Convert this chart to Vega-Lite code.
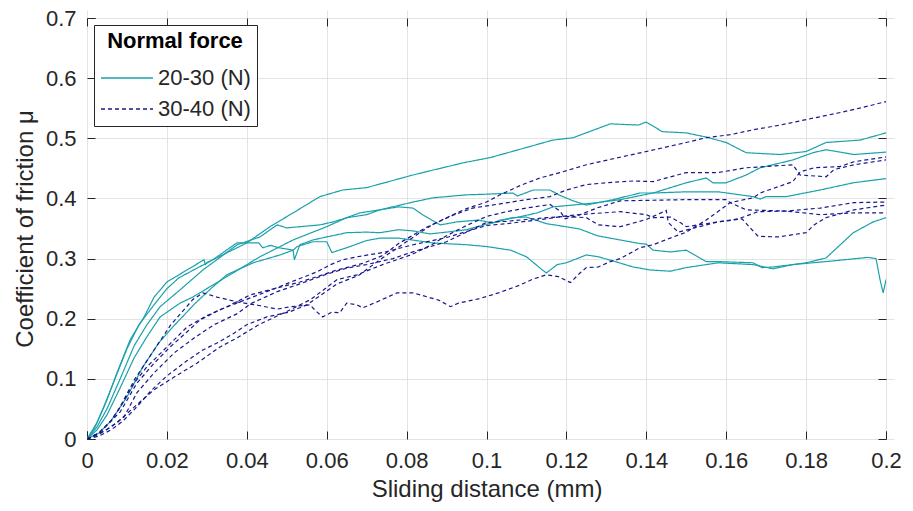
{
"$schema":"https://vega.github.io/schema/vega-lite/v6.json",
"width":799,"height":421,
"autosize":{"type":"none"},
"padding":{"left":87,"top":18,"right":27,"bottom":72},
"background":"white",
"config":{"font":"Liberation Sans","view":{"stroke":"#262626","strokeWidth":1},
"axis":{"domain":false,"tickColor":"#262626","tickSize":8,"tickWidth":1,"offset":-8,"labelColor":"#262626","titleColor":"#262626","labelFontSize":22,"titleFontSize":24,"titleFontWeight":"normal","gridColor":"#e3e3e3","gridWidth":1,"labelFlush":false,"labelOverlap":false,"zindex":0}},
"data":{"values":[
{"s":"T1","g":"20-30 (N)","x":0,"y":0},{"s":"T1","g":"20-30 (N)","x":0.0025,"y":0.027},{"s":"T1","g":"20-30 (N)","x":0.005,"y":0.065},{"s":"T1","g":"20-30 (N)","x":0.0075,"y":0.11},{"s":"T1","g":"20-30 (N)","x":0.0108,"y":0.165},{"s":"T1","g":"20-30 (N)","x":0.0143,"y":0.203},{"s":"T1","g":"20-30 (N)","x":0.0168,"y":0.236},{"s":"T1","g":"20-30 (N)","x":0.02,"y":0.261},{"s":"T1","g":"20-30 (N)","x":0.025,"y":0.281},{"s":"T1","g":"20-30 (N)","x":0.0293,"y":0.298},{"s":"T1","g":"20-30 (N)","x":0.0296,"y":0.29},{"s":"T1","g":"20-30 (N)","x":0.0302,"y":0.294},{"s":"T1","g":"20-30 (N)","x":0.033,"y":0.303},{"s":"T1","g":"20-30 (N)","x":0.04,"y":0.326},{"s":"T1","g":"20-30 (N)","x":0.0458,"y":0.353},{"s":"T1","g":"20-30 (N)","x":0.0516,"y":0.376},{"s":"T1","g":"20-30 (N)","x":0.0583,"y":0.403},{"s":"T1","g":"20-30 (N)","x":0.064,"y":0.414},{"s":"T1","g":"20-30 (N)","x":0.07,"y":0.418},{"s":"T1","g":"20-30 (N)","x":0.0783,"y":0.433},{"s":"T1","g":"20-30 (N)","x":0.081,"y":0.438},{"s":"T1","g":"20-30 (N)","x":0.094,"y":0.459},{"s":"T1","g":"20-30 (N)","x":0.101,"y":0.468},{"s":"T1","g":"20-30 (N)","x":0.108,"y":0.481},{"s":"T1","g":"20-30 (N)","x":0.1166,"y":0.497},{"s":"T1","g":"20-30 (N)","x":0.1217,"y":0.501},{"s":"T1","g":"20-30 (N)","x":0.131,"y":0.524},{"s":"T1","g":"20-30 (N)","x":0.138,"y":0.522},{"s":"T1","g":"20-30 (N)","x":0.14,"y":0.527},{"s":"T1","g":"20-30 (N)","x":0.144,"y":0.511},{"s":"T1","g":"20-30 (N)","x":0.15,"y":0.509},{"s":"T1","g":"20-30 (N)","x":0.155,"y":0.502},{"s":"T1","g":"20-30 (N)","x":0.16,"y":0.493},{"s":"T1","g":"20-30 (N)","x":0.165,"y":0.476},{"s":"T1","g":"20-30 (N)","x":0.1735,"y":0.473},{"s":"T1","g":"20-30 (N)","x":0.18,"y":0.478},{"s":"T1","g":"20-30 (N)","x":0.185,"y":0.493},{"s":"T1","g":"20-30 (N)","x":0.1935,"y":0.497},{"s":"T1","g":"20-30 (N)","x":0.2,"y":0.509},
{"s":"T2","g":"20-30 (N)","x":0,"y":0},{"s":"T2","g":"20-30 (N)","x":0.0025,"y":0.02},{"s":"T2","g":"20-30 (N)","x":0.005,"y":0.05},{"s":"T2","g":"20-30 (N)","x":0.0083,"y":0.1},{"s":"T2","g":"20-30 (N)","x":0.0118,"y":0.155},{"s":"T2","g":"20-30 (N)","x":0.015,"y":0.19},{"s":"T2","g":"20-30 (N)","x":0.0183,"y":0.22},{"s":"T2","g":"20-30 (N)","x":0.0233,"y":0.248},{"s":"T2","g":"20-30 (N)","x":0.029,"y":0.281},{"s":"T2","g":"20-30 (N)","x":0.0376,"y":0.323},{"s":"T2","g":"20-30 (N)","x":0.0433,"y":0.336},{"s":"T2","g":"20-30 (N)","x":0.0476,"y":0.356},{"s":"T2","g":"20-30 (N)","x":0.05,"y":0.351},{"s":"T2","g":"20-30 (N)","x":0.0533,"y":0.353},{"s":"T2","g":"20-30 (N)","x":0.0583,"y":0.356},{"s":"T2","g":"20-30 (N)","x":0.0616,"y":0.361},{"s":"T2","g":"20-30 (N)","x":0.0651,"y":0.368},{"s":"T2","g":"20-30 (N)","x":0.07,"y":0.373},{"s":"T2","g":"20-30 (N)","x":0.0733,"y":0.381},{"s":"T2","g":"20-30 (N)","x":0.0816,"y":0.394},{"s":"T2","g":"20-30 (N)","x":0.0866,"y":0.401},{"s":"T2","g":"20-30 (N)","x":0.095,"y":0.406},{"s":"T2","g":"20-30 (N)","x":0.1,"y":0.407},{"s":"T2","g":"20-30 (N)","x":0.1066,"y":0.409},{"s":"T2","g":"20-30 (N)","x":0.1077,"y":0.404},{"s":"T2","g":"20-30 (N)","x":0.1117,"y":0.414},{"s":"T2","g":"20-30 (N)","x":0.1159,"y":0.414},{"s":"T2","g":"20-30 (N)","x":0.1184,"y":0.405},{"s":"T2","g":"20-30 (N)","x":0.1217,"y":0.396},{"s":"T2","g":"20-30 (N)","x":0.125,"y":0.389},{"s":"T2","g":"20-30 (N)","x":0.1317,"y":0.398},{"s":"T2","g":"20-30 (N)","x":0.1384,"y":0.409},{"s":"T2","g":"20-30 (N)","x":0.1417,"y":0.409},{"s":"T2","g":"20-30 (N)","x":0.15,"y":0.426},{"s":"T2","g":"20-30 (N)","x":0.155,"y":0.434},{"s":"T2","g":"20-30 (N)","x":0.1567,"y":0.426},{"s":"T2","g":"20-30 (N)","x":0.16,"y":0.426},{"s":"T2","g":"20-30 (N)","x":0.165,"y":0.439},{"s":"T2","g":"20-30 (N)","x":0.1685,"y":0.451},{"s":"T2","g":"20-30 (N)","x":0.1767,"y":0.464},{"s":"T2","g":"20-30 (N)","x":0.1817,"y":0.476},{"s":"T2","g":"20-30 (N)","x":0.185,"y":0.481},{"s":"T2","g":"20-30 (N)","x":0.192,"y":0.473},{"s":"T2","g":"20-30 (N)","x":0.2,"y":0.477},
{"s":"T3","g":"20-30 (N)","x":0,"y":0},{"s":"T3","g":"20-30 (N)","x":0.0025,"y":0.015},{"s":"T3","g":"20-30 (N)","x":0.005,"y":0.04},{"s":"T3","g":"20-30 (N)","x":0.0083,"y":0.085},{"s":"T3","g":"20-30 (N)","x":0.0118,"y":0.135},{"s":"T3","g":"20-30 (N)","x":0.015,"y":0.17},{"s":"T3","g":"20-30 (N)","x":0.0183,"y":0.203},{"s":"T3","g":"20-30 (N)","x":0.0233,"y":0.226},{"s":"T3","g":"20-30 (N)","x":0.0265,"y":0.236},{"s":"T3","g":"20-30 (N)","x":0.035,"y":0.27},{"s":"T3","g":"20-30 (N)","x":0.0433,"y":0.303},{"s":"T3","g":"20-30 (N)","x":0.0516,"y":0.331},{"s":"T3","g":"20-30 (N)","x":0.06,"y":0.353},{"s":"T3","g":"20-30 (N)","x":0.065,"y":0.368},{"s":"T3","g":"20-30 (N)","x":0.0683,"y":0.376},{"s":"T3","g":"20-30 (N)","x":0.0733,"y":0.381},{"s":"T3","g":"20-30 (N)","x":0.078,"y":0.386},{"s":"T3","g":"20-30 (N)","x":0.0816,"y":0.384},{"s":"T3","g":"20-30 (N)","x":0.084,"y":0.373},{"s":"T3","g":"20-30 (N)","x":0.0884,"y":0.356},{"s":"T3","g":"20-30 (N)","x":0.0926,"y":0.361},{"s":"T3","g":"20-30 (N)","x":0.098,"y":0.364},{"s":"T3","g":"20-30 (N)","x":0.1016,"y":0.359},{"s":"T3","g":"20-30 (N)","x":0.1034,"y":0.364},{"s":"T3","g":"20-30 (N)","x":0.108,"y":0.369},{"s":"T3","g":"20-30 (N)","x":0.1127,"y":0.376},{"s":"T3","g":"20-30 (N)","x":0.1167,"y":0.386},{"s":"T3","g":"20-30 (N)","x":0.1217,"y":0.389},{"s":"T3","g":"20-30 (N)","x":0.1277,"y":0.393},{"s":"T3","g":"20-30 (N)","x":0.1335,"y":0.398},{"s":"T3","g":"20-30 (N)","x":0.1417,"y":0.409},{"s":"T3","g":"20-30 (N)","x":0.15,"y":0.411},{"s":"T3","g":"20-30 (N)","x":0.158,"y":0.411},{"s":"T3","g":"20-30 (N)","x":0.1667,"y":0.403},{"s":"T3","g":"20-30 (N)","x":0.1685,"y":0.399},{"s":"T3","g":"20-30 (N)","x":0.17,"y":0.403},{"s":"T3","g":"20-30 (N)","x":0.175,"y":0.403},{"s":"T3","g":"20-30 (N)","x":0.1835,"y":0.414},{"s":"T3","g":"20-30 (N)","x":0.1918,"y":0.426},{"s":"T3","g":"20-30 (N)","x":0.2,"y":0.433},
{"s":"T4","g":"20-30 (N)","x":0,"y":0},{"s":"T4","g":"20-30 (N)","x":0.003,"y":0.01},{"s":"T4","g":"20-30 (N)","x":0.006,"y":0.03},{"s":"T4","g":"20-30 (N)","x":0.01,"y":0.07},{"s":"T4","g":"20-30 (N)","x":0.014,"y":0.12},{"s":"T4","g":"20-30 (N)","x":0.018,"y":0.16},{"s":"T4","g":"20-30 (N)","x":0.022,"y":0.19},{"s":"T4","g":"20-30 (N)","x":0.027,"y":0.225},{"s":"T4","g":"20-30 (N)","x":0.031,"y":0.25},{"s":"T4","g":"20-30 (N)","x":0.035,"y":0.273},{"s":"T4","g":"20-30 (N)","x":0.0416,"y":0.293},{"s":"T4","g":"20-30 (N)","x":0.0483,"y":0.306},{"s":"T4","g":"20-30 (N)","x":0.0516,"y":0.314},{"s":"T4","g":"20-30 (N)","x":0.0519,"y":0.298},{"s":"T4","g":"20-30 (N)","x":0.0533,"y":0.323},{"s":"T4","g":"20-30 (N)","x":0.0566,"y":0.331},{"s":"T4","g":"20-30 (N)","x":0.06,"y":0.336},{"s":"T4","g":"20-30 (N)","x":0.065,"y":0.343},{"s":"T4","g":"20-30 (N)","x":0.07,"y":0.344},{"s":"T4","g":"20-30 (N)","x":0.0733,"y":0.343},{"s":"T4","g":"20-30 (N)","x":0.078,"y":0.348},{"s":"T4","g":"20-30 (N)","x":0.0816,"y":0.346},{"s":"T4","g":"20-30 (N)","x":0.0859,"y":0.341},{"s":"T4","g":"20-30 (N)","x":0.09,"y":0.344},{"s":"T4","g":"20-30 (N)","x":0.095,"y":0.348},{"s":"T4","g":"20-30 (N)","x":0.1,"y":0.357},{"s":"T4","g":"20-30 (N)","x":0.1066,"y":0.368},{"s":"T4","g":"20-30 (N)","x":0.11,"y":0.369},{"s":"T4","g":"20-30 (N)","x":0.115,"y":0.358},{"s":"T4","g":"20-30 (N)","x":0.118,"y":0.355},{"s":"T4","g":"20-30 (N)","x":0.1234,"y":0.349},{"s":"T4","g":"20-30 (N)","x":0.1277,"y":0.338},{"s":"T4","g":"20-30 (N)","x":0.1317,"y":0.333},{"s":"T4","g":"20-30 (N)","x":0.1384,"y":0.325},{"s":"T4","g":"20-30 (N)","x":0.14,"y":0.324},{"s":"T4","g":"20-30 (N)","x":0.1417,"y":0.314},{"s":"T4","g":"20-30 (N)","x":0.146,"y":0.311},{"s":"T4","g":"20-30 (N)","x":0.15,"y":0.314},{"s":"T4","g":"20-30 (N)","x":0.155,"y":0.295},{"s":"T4","g":"20-30 (N)","x":0.158,"y":0.295},{"s":"T4","g":"20-30 (N)","x":0.1667,"y":0.293},{"s":"T4","g":"20-30 (N)","x":0.169,"y":0.285},{"s":"T4","g":"20-30 (N)","x":0.1717,"y":0.286},{"s":"T4","g":"20-30 (N)","x":0.1767,"y":0.29},{"s":"T4","g":"20-30 (N)","x":0.18,"y":0.293},{"s":"T4","g":"20-30 (N)","x":0.185,"y":0.301},{"s":"T4","g":"20-30 (N)","x":0.1918,"y":0.343},{"s":"T4","g":"20-30 (N)","x":0.1968,"y":0.361},{"s":"T4","g":"20-30 (N)","x":0.2,"y":0.368},
{"s":"T5","g":"20-30 (N)","x":0,"y":0},{"s":"T5","g":"20-30 (N)","x":0.002,"y":0.02},{"s":"T5","g":"20-30 (N)","x":0.004,"y":0.05},{"s":"T5","g":"20-30 (N)","x":0.007,"y":0.1},{"s":"T5","g":"20-30 (N)","x":0.01,"y":0.15},{"s":"T5","g":"20-30 (N)","x":0.013,"y":0.19},{"s":"T5","g":"20-30 (N)","x":0.017,"y":0.225},{"s":"T5","g":"20-30 (N)","x":0.02,"y":0.25},{"s":"T5","g":"20-30 (N)","x":0.023,"y":0.268},{"s":"T5","g":"20-30 (N)","x":0.0315,"y":0.298},{"s":"T5","g":"20-30 (N)","x":0.0375,"y":0.326},{"s":"T5","g":"20-30 (N)","x":0.043,"y":0.326},{"s":"T5","g":"20-30 (N)","x":0.044,"y":0.318},{"s":"T5","g":"20-30 (N)","x":0.046,"y":0.322},{"s":"T5","g":"20-30 (N)","x":0.048,"y":0.318},{"s":"T5","g":"20-30 (N)","x":0.0516,"y":0.314},{"s":"T5","g":"20-30 (N)","x":0.0526,"y":0.32},{"s":"T5","g":"20-30 (N)","x":0.0566,"y":0.328},{"s":"T5","g":"20-30 (N)","x":0.06,"y":0.328},{"s":"T5","g":"20-30 (N)","x":0.0613,"y":0.31},{"s":"T5","g":"20-30 (N)","x":0.065,"y":0.318},{"s":"T5","g":"20-30 (N)","x":0.07,"y":0.33},{"s":"T5","g":"20-30 (N)","x":0.0733,"y":0.334},{"s":"T5","g":"20-30 (N)","x":0.078,"y":0.334},{"s":"T5","g":"20-30 (N)","x":0.0866,"y":0.326},{"s":"T5","g":"20-30 (N)","x":0.095,"y":0.323},{"s":"T5","g":"20-30 (N)","x":0.1,"y":0.32},{"s":"T5","g":"20-30 (N)","x":0.106,"y":0.314},{"s":"T5","g":"20-30 (N)","x":0.11,"y":0.303},{"s":"T5","g":"20-30 (N)","x":0.114,"y":0.281},{"s":"T5","g":"20-30 (N)","x":0.115,"y":0.276},{"s":"T5","g":"20-30 (N)","x":0.1177,"y":0.29},{"s":"T5","g":"20-30 (N)","x":0.12,"y":0.293},{"s":"T5","g":"20-30 (N)","x":0.125,"y":0.306},{"s":"T5","g":"20-30 (N)","x":0.128,"y":0.303},{"s":"T5","g":"20-30 (N)","x":0.1317,"y":0.296},{"s":"T5","g":"20-30 (N)","x":0.1367,"y":0.286},{"s":"T5","g":"20-30 (N)","x":0.141,"y":0.281},{"s":"T5","g":"20-30 (N)","x":0.146,"y":0.279},{"s":"T5","g":"20-30 (N)","x":0.15,"y":0.285},{"s":"T5","g":"20-30 (N)","x":0.158,"y":0.293},{"s":"T5","g":"20-30 (N)","x":0.1667,"y":0.29},{"s":"T5","g":"20-30 (N)","x":0.1717,"y":0.283},{"s":"T5","g":"20-30 (N)","x":0.1767,"y":0.29},{"s":"T5","g":"20-30 (N)","x":0.185,"y":0.295},{"s":"T5","g":"20-30 (N)","x":0.1955,"y":0.302},{"s":"T5","g":"20-30 (N)","x":0.1975,"y":0.3},{"s":"T5","g":"20-30 (N)","x":0.1985,"y":0.265},{"s":"T5","g":"20-30 (N)","x":0.1993,"y":0.243},{"s":"T5","g":"20-30 (N)","x":0.2,"y":0.265},
{"s":"D1","g":"30-40 (N)","x":0,"y":0},{"s":"D1","g":"30-40 (N)","x":0.003,"y":0.005},{"s":"D1","g":"30-40 (N)","x":0.006,"y":0.015},{"s":"D1","g":"30-40 (N)","x":0.009,"y":0.03},{"s":"D1","g":"30-40 (N)","x":0.012,"y":0.05},{"s":"D1","g":"30-40 (N)","x":0.016,"y":0.08},{"s":"D1","g":"30-40 (N)","x":0.02,"y":0.105},{"s":"D1","g":"30-40 (N)","x":0.025,"y":0.13},{"s":"D1","g":"30-40 (N)","x":0.029,"y":0.148},{"s":"D1","g":"30-40 (N)","x":0.033,"y":0.161},{"s":"D1","g":"30-40 (N)","x":0.0368,"y":0.176},{"s":"D1","g":"30-40 (N)","x":0.04,"y":0.19},{"s":"D1","g":"30-40 (N)","x":0.045,"y":0.203},{"s":"D1","g":"30-40 (N)","x":0.0506,"y":0.211},{"s":"D1","g":"30-40 (N)","x":0.055,"y":0.223},{"s":"D1","g":"30-40 (N)","x":0.0626,"y":0.258},{"s":"D1","g":"30-40 (N)","x":0.068,"y":0.272},{"s":"D1","g":"30-40 (N)","x":0.0733,"y":0.298},{"s":"D1","g":"30-40 (N)","x":0.078,"y":0.319},{"s":"D1","g":"30-40 (N)","x":0.0833,"y":0.343},{"s":"D1","g":"30-40 (N)","x":0.0866,"y":0.357},{"s":"D1","g":"30-40 (N)","x":0.091,"y":0.371},{"s":"D1","g":"30-40 (N)","x":0.095,"y":0.383},{"s":"D1","g":"30-40 (N)","x":0.1,"y":0.394},{"s":"D1","g":"30-40 (N)","x":0.1034,"y":0.406},{"s":"D1","g":"30-40 (N)","x":0.109,"y":0.423},{"s":"D1","g":"30-40 (N)","x":0.1134,"y":0.434},{"s":"D1","g":"30-40 (N)","x":0.1184,"y":0.443},{"s":"D1","g":"30-40 (N)","x":0.125,"y":0.456},{"s":"D1","g":"30-40 (N)","x":0.1317,"y":0.466},{"s":"D1","g":"30-40 (N)","x":0.14,"y":0.478},{"s":"D1","g":"30-40 (N)","x":0.15,"y":0.493},{"s":"D1","g":"30-40 (N)","x":0.155,"y":0.501},{"s":"D1","g":"30-40 (N)","x":0.161,"y":0.506},{"s":"D1","g":"30-40 (N)","x":0.1667,"y":0.514},{"s":"D1","g":"30-40 (N)","x":0.1735,"y":0.522},{"s":"D1","g":"30-40 (N)","x":0.18,"y":0.531},{"s":"D1","g":"30-40 (N)","x":0.188,"y":0.542},{"s":"D1","g":"30-40 (N)","x":0.194,"y":0.551},{"s":"D1","g":"30-40 (N)","x":0.2,"y":0.561},
{"s":"D2","g":"30-40 (N)","x":0,"y":0},{"s":"D2","g":"30-40 (N)","x":0.003,"y":0.01},{"s":"D2","g":"30-40 (N)","x":0.006,"y":0.03},{"s":"D2","g":"30-40 (N)","x":0.008,"y":0.05},{"s":"D2","g":"30-40 (N)","x":0.012,"y":0.1},{"s":"D2","g":"30-40 (N)","x":0.017,"y":0.15},{"s":"D2","g":"30-40 (N)","x":0.021,"y":0.19},{"s":"D2","g":"30-40 (N)","x":0.0265,"y":0.232},{"s":"D2","g":"30-40 (N)","x":0.029,"y":0.243},{"s":"D2","g":"30-40 (N)","x":0.0325,"y":0.236},{"s":"D2","g":"30-40 (N)","x":0.0376,"y":0.228},{"s":"D2","g":"30-40 (N)","x":0.043,"y":0.222},{"s":"D2","g":"30-40 (N)","x":0.0476,"y":0.216},{"s":"D2","g":"30-40 (N)","x":0.051,"y":0.22},{"s":"D2","g":"30-40 (N)","x":0.0558,"y":0.223},{"s":"D2","g":"30-40 (N)","x":0.0576,"y":0.211},{"s":"D2","g":"30-40 (N)","x":0.059,"y":0.203},{"s":"D2","g":"30-40 (N)","x":0.0613,"y":0.211},{"s":"D2","g":"30-40 (N)","x":0.0633,"y":0.21},{"s":"D2","g":"30-40 (N)","x":0.065,"y":0.226},{"s":"D2","g":"30-40 (N)","x":0.0676,"y":0.223},{"s":"D2","g":"30-40 (N)","x":0.069,"y":0.218},{"s":"D2","g":"30-40 (N)","x":0.0726,"y":0.228},{"s":"D2","g":"30-40 (N)","x":0.0776,"y":0.243},{"s":"D2","g":"30-40 (N)","x":0.0816,"y":0.243},{"s":"D2","g":"30-40 (N)","x":0.088,"y":0.231},{"s":"D2","g":"30-40 (N)","x":0.091,"y":0.22},{"s":"D2","g":"30-40 (N)","x":0.093,"y":0.226},{"s":"D2","g":"30-40 (N)","x":0.098,"y":0.233},{"s":"D2","g":"30-40 (N)","x":0.103,"y":0.243},{"s":"D2","g":"30-40 (N)","x":0.108,"y":0.255},{"s":"D2","g":"30-40 (N)","x":0.1117,"y":0.266},{"s":"D2","g":"30-40 (N)","x":0.115,"y":0.273},{"s":"D2","g":"30-40 (N)","x":0.118,"y":0.27},{"s":"D2","g":"30-40 (N)","x":0.121,"y":0.26},{"s":"D2","g":"30-40 (N)","x":0.1234,"y":0.276},{"s":"D2","g":"30-40 (N)","x":0.125,"y":0.285},{"s":"D2","g":"30-40 (N)","x":0.128,"y":0.286},{"s":"D2","g":"30-40 (N)","x":0.131,"y":0.295},{"s":"D2","g":"30-40 (N)","x":0.1335,"y":0.3},{"s":"D2","g":"30-40 (N)","x":0.1384,"y":0.318},{"s":"D2","g":"30-40 (N)","x":0.1417,"y":0.323},{"s":"D2","g":"30-40 (N)","x":0.146,"y":0.334},{"s":"D2","g":"30-40 (N)","x":0.15,"y":0.344},{"s":"D2","g":"30-40 (N)","x":0.155,"y":0.364},{"s":"D2","g":"30-40 (N)","x":0.161,"y":0.393},{"s":"D2","g":"30-40 (N)","x":0.1667,"y":0.401},{"s":"D2","g":"30-40 (N)","x":0.1685,"y":0.409},{"s":"D2","g":"30-40 (N)","x":0.1767,"y":0.428},{"s":"D2","g":"30-40 (N)","x":0.1785,"y":0.444},{"s":"D2","g":"30-40 (N)","x":0.182,"y":0.451},{"s":"D2","g":"30-40 (N)","x":0.1885,"y":0.453},{"s":"D2","g":"30-40 (N)","x":0.192,"y":0.461},{"s":"D2","g":"30-40 (N)","x":0.2,"y":0.469},
{"s":"D3","g":"30-40 (N)","x":0,"y":0},{"s":"D3","g":"30-40 (N)","x":0.003,"y":0.01},{"s":"D3","g":"30-40 (N)","x":0.006,"y":0.03},{"s":"D3","g":"30-40 (N)","x":0.0083,"y":0.053},{"s":"D3","g":"30-40 (N)","x":0.0118,"y":0.093},{"s":"D3","g":"30-40 (N)","x":0.015,"y":0.12},{"s":"D3","g":"30-40 (N)","x":0.02,"y":0.153},{"s":"D3","g":"30-40 (N)","x":0.025,"y":0.186},{"s":"D3","g":"30-40 (N)","x":0.03,"y":0.205},{"s":"D3","g":"30-40 (N)","x":0.035,"y":0.22},{"s":"D3","g":"30-40 (N)","x":0.041,"y":0.24},{"s":"D3","g":"30-40 (N)","x":0.0476,"y":0.251},{"s":"D3","g":"30-40 (N)","x":0.0533,"y":0.261},{"s":"D3","g":"30-40 (N)","x":0.0576,"y":0.27},{"s":"D3","g":"30-40 (N)","x":0.0626,"y":0.281},{"s":"D3","g":"30-40 (N)","x":0.069,"y":0.292},{"s":"D3","g":"30-40 (N)","x":0.074,"y":0.305},{"s":"D3","g":"30-40 (N)","x":0.078,"y":0.325},{"s":"D3","g":"30-40 (N)","x":0.085,"y":0.352},{"s":"D3","g":"30-40 (N)","x":0.0916,"y":0.372},{"s":"D3","g":"30-40 (N)","x":0.0966,"y":0.384},{"s":"D3","g":"30-40 (N)","x":0.1034,"y":0.391},{"s":"D3","g":"30-40 (N)","x":0.11,"y":0.398},{"s":"D3","g":"30-40 (N)","x":0.1159,"y":0.403},{"s":"D3","g":"30-40 (N)","x":0.12,"y":0.414},{"s":"D3","g":"30-40 (N)","x":0.125,"y":0.423},{"s":"D3","g":"30-40 (N)","x":0.13,"y":0.426},{"s":"D3","g":"30-40 (N)","x":0.1367,"y":0.429},{"s":"D3","g":"30-40 (N)","x":0.1417,"y":0.428},{"s":"D3","g":"30-40 (N)","x":0.15,"y":0.443},{"s":"D3","g":"30-40 (N)","x":0.158,"y":0.443},{"s":"D3","g":"30-40 (N)","x":0.165,"y":0.451},{"s":"D3","g":"30-40 (N)","x":0.1767,"y":0.456},{"s":"D3","g":"30-40 (N)","x":0.1785,"y":0.439},{"s":"D3","g":"30-40 (N)","x":0.185,"y":0.436},{"s":"D3","g":"30-40 (N)","x":0.187,"y":0.448},{"s":"D3","g":"30-40 (N)","x":0.192,"y":0.456},{"s":"D3","g":"30-40 (N)","x":0.2,"y":0.464},
{"s":"D4","g":"30-40 (N)","x":0,"y":0},{"s":"D4","g":"30-40 (N)","x":0.004,"y":0.012},{"s":"D4","g":"30-40 (N)","x":0.0075,"y":0.027},{"s":"D4","g":"30-40 (N)","x":0.0118,"y":0.053},{"s":"D4","g":"30-40 (N)","x":0.0168,"y":0.082},{"s":"D4","g":"30-40 (N)","x":0.0218,"y":0.103},{"s":"D4","g":"30-40 (N)","x":0.0275,"y":0.126},{"s":"D4","g":"30-40 (N)","x":0.0333,"y":0.153},{"s":"D4","g":"30-40 (N)","x":0.0375,"y":0.168},{"s":"D4","g":"30-40 (N)","x":0.043,"y":0.19},{"s":"D4","g":"30-40 (N)","x":0.05,"y":0.212},{"s":"D4","g":"30-40 (N)","x":0.056,"y":0.232},{"s":"D4","g":"30-40 (N)","x":0.0626,"y":0.265},{"s":"D4","g":"30-40 (N)","x":0.0676,"y":0.273},{"s":"D4","g":"30-40 (N)","x":0.074,"y":0.29},{"s":"D4","g":"30-40 (N)","x":0.081,"y":0.306},{"s":"D4","g":"30-40 (N)","x":0.086,"y":0.322},{"s":"D4","g":"30-40 (N)","x":0.09,"y":0.338},{"s":"D4","g":"30-40 (N)","x":0.095,"y":0.355},{"s":"D4","g":"30-40 (N)","x":0.1,"y":0.37},{"s":"D4","g":"30-40 (N)","x":0.105,"y":0.378},{"s":"D4","g":"30-40 (N)","x":0.11,"y":0.384},{"s":"D4","g":"30-40 (N)","x":0.1159,"y":0.39},{"s":"D4","g":"30-40 (N)","x":0.1184,"y":0.379},{"s":"D4","g":"30-40 (N)","x":0.1197,"y":0.366},{"s":"D4","g":"30-40 (N)","x":0.123,"y":0.372},{"s":"D4","g":"30-40 (N)","x":0.128,"y":0.385},{"s":"D4","g":"30-40 (N)","x":0.1335,"y":0.396},{"s":"D4","g":"30-40 (N)","x":0.1417,"y":0.397},{"s":"D4","g":"30-40 (N)","x":0.15,"y":0.398},{"s":"D4","g":"30-40 (N)","x":0.16,"y":0.398},{"s":"D4","g":"30-40 (N)","x":0.161,"y":0.393},{"s":"D4","g":"30-40 (N)","x":0.165,"y":0.381},{"s":"D4","g":"30-40 (N)","x":0.175,"y":0.379},{"s":"D4","g":"30-40 (N)","x":0.1835,"y":0.384},{"s":"D4","g":"30-40 (N)","x":0.192,"y":0.393},{"s":"D4","g":"30-40 (N)","x":0.2,"y":0.394},
{"s":"D5","g":"30-40 (N)","x":0,"y":0},{"s":"D5","g":"30-40 (N)","x":0.003,"y":0.008},{"s":"D5","g":"30-40 (N)","x":0.006,"y":0.02},{"s":"D5","g":"30-40 (N)","x":0.0093,"y":0.037},{"s":"D5","g":"30-40 (N)","x":0.0125,"y":0.077},{"s":"D5","g":"30-40 (N)","x":0.0168,"y":0.11},{"s":"D5","g":"30-40 (N)","x":0.0218,"y":0.143},{"s":"D5","g":"30-40 (N)","x":0.0268,"y":0.168},{"s":"D5","g":"30-40 (N)","x":0.0318,"y":0.19},{"s":"D5","g":"30-40 (N)","x":0.0375,"y":0.208},{"s":"D5","g":"30-40 (N)","x":0.041,"y":0.225},{"s":"D5","g":"30-40 (N)","x":0.0476,"y":0.245},{"s":"D5","g":"30-40 (N)","x":0.0533,"y":0.258},{"s":"D5","g":"30-40 (N)","x":0.06,"y":0.274},{"s":"D5","g":"30-40 (N)","x":0.065,"y":0.284},{"s":"D5","g":"30-40 (N)","x":0.07,"y":0.29},{"s":"D5","g":"30-40 (N)","x":0.0766,"y":0.3},{"s":"D5","g":"30-40 (N)","x":0.081,"y":0.31},{"s":"D5","g":"30-40 (N)","x":0.09,"y":0.328},{"s":"D5","g":"30-40 (N)","x":0.1,"y":0.36},{"s":"D5","g":"30-40 (N)","x":0.105,"y":0.362},{"s":"D5","g":"30-40 (N)","x":0.11,"y":0.365},{"s":"D5","g":"30-40 (N)","x":0.115,"y":0.368},{"s":"D5","g":"30-40 (N)","x":0.12,"y":0.37},{"s":"D5","g":"30-40 (N)","x":0.125,"y":0.368},{"s":"D5","g":"30-40 (N)","x":0.128,"y":0.356},{"s":"D5","g":"30-40 (N)","x":0.1335,"y":0.353},{"s":"D5","g":"30-40 (N)","x":0.14,"y":0.365},{"s":"D5","g":"30-40 (N)","x":0.145,"y":0.38},{"s":"D5","g":"30-40 (N)","x":0.1455,"y":0.36},{"s":"D5","g":"30-40 (N)","x":0.148,"y":0.344},{"s":"D5","g":"30-40 (N)","x":0.152,"y":0.351},{"s":"D5","g":"30-40 (N)","x":0.158,"y":0.361},{"s":"D5","g":"30-40 (N)","x":0.164,"y":0.366},{"s":"D5","g":"30-40 (N)","x":0.166,"y":0.351},{"s":"D5","g":"30-40 (N)","x":0.168,"y":0.337},{"s":"D5","g":"30-40 (N)","x":0.173,"y":0.336},{"s":"D5","g":"30-40 (N)","x":0.18,"y":0.343},{"s":"D5","g":"30-40 (N)","x":0.182,"y":0.356},{"s":"D5","g":"30-40 (N)","x":0.185,"y":0.368},{"s":"D5","g":"30-40 (N)","x":0.192,"y":0.381},{"s":"D5","g":"30-40 (N)","x":0.2,"y":0.389},
{"s":"D6","g":"30-40 (N)","x":0,"y":0},{"s":"D6","g":"30-40 (N)","x":0.003,"y":0.01},{"s":"D6","g":"30-40 (N)","x":0.0083,"y":0.045},{"s":"D6","g":"30-40 (N)","x":0.0125,"y":0.093},{"s":"D6","g":"30-40 (N)","x":0.0168,"y":0.126},{"s":"D6","g":"30-40 (N)","x":0.0208,"y":0.153},{"s":"D6","g":"30-40 (N)","x":0.025,"y":0.178},{"s":"D6","g":"30-40 (N)","x":0.0283,"y":0.198},{"s":"D6","g":"30-40 (N)","x":0.0333,"y":0.215},{"s":"D6","g":"30-40 (N)","x":0.0375,"y":0.226},{"s":"D6","g":"30-40 (N)","x":0.045,"y":0.245},{"s":"D6","g":"30-40 (N)","x":0.0526,"y":0.265},{"s":"D6","g":"30-40 (N)","x":0.0576,"y":0.278},{"s":"D6","g":"30-40 (N)","x":0.061,"y":0.29},{"s":"D6","g":"30-40 (N)","x":0.064,"y":0.298},{"s":"D6","g":"30-40 (N)","x":0.0676,"y":0.303},{"s":"D6","g":"30-40 (N)","x":0.074,"y":0.31},{"s":"D6","g":"30-40 (N)","x":0.081,"y":0.322},{"s":"D6","g":"30-40 (N)","x":0.09,"y":0.335},{"s":"D6","g":"30-40 (N)","x":0.1,"y":0.355},{"s":"D6","g":"30-40 (N)","x":0.105,"y":0.358},{"s":"D6","g":"30-40 (N)","x":0.11,"y":0.362},{"s":"D6","g":"30-40 (N)","x":0.115,"y":0.366},{"s":"D6","g":"30-40 (N)","x":0.12,"y":0.371},{"s":"D6","g":"30-40 (N)","x":0.125,"y":0.374},{"s":"D6","g":"30-40 (N)","x":0.1335,"y":0.378},{"s":"D6","g":"30-40 (N)","x":0.14,"y":0.373},{"s":"D6","g":"30-40 (N)","x":0.1417,"y":0.368},{"s":"D6","g":"30-40 (N)","x":0.146,"y":0.369},{"s":"D6","g":"30-40 (N)","x":0.1487,"y":0.359},{"s":"D6","g":"30-40 (N)","x":0.15,"y":0.353},{"s":"D6","g":"30-40 (N)","x":0.158,"y":0.361},{"s":"D6","g":"30-40 (N)","x":0.163,"y":0.366},{"s":"D6","g":"30-40 (N)","x":0.168,"y":0.378},{"s":"D6","g":"30-40 (N)","x":0.175,"y":0.379},{"s":"D6","g":"30-40 (N)","x":0.1835,"y":0.373},{"s":"D6","g":"30-40 (N)","x":0.192,"y":0.376},{"s":"D6","g":"30-40 (N)","x":0.2,"y":0.376}
]},
"layer":[
{"mark":{"type":"line","strokeWidth":1.2,"clip":true},
"encoding":{
"x":{"field":"x","type":"quantitative","scale":{"domain":[0,0.2],"nice":false,"zero":false},"axis":{"orient":"bottom","values":[0,0.02,0.04,0.06,0.08,0.1,0.12,0.14,0.16,0.18,0.2],"format":"~g","labelPadding":11,"title":"Sliding distance (mm)","titlePadding":6,"grid":true}},
"y":{"field":"y","type":"quantitative","scale":{"domain":[0,0.7],"nice":false},"axis":{"orient":"left","values":[0,0.1,0.2,0.3,0.4,0.5,0.6,0.7],"format":"~g","labelPadding":11,"title":"Coefficient of friction μ","titlePadding":8,"grid":true}},
"detail":{"field":"s","type":"nominal"},
"color":{"field":"g","type":"nominal","scale":{"domain":["20-30 (N)","30-40 (N)"],"range":["#1aa1aa","#18188c"]},"legend":{"title":"Normal force","orient":"top-left","offset":7,"strokeColor":"#262626","fillColor":"white","padding":6,"titleFontSize":22,"titleFontWeight":"bold","titleColor":"black","titleAnchor":"middle","titlePadding":11,"labelFontSize":22,"labelColor":"#262626","symbolType":"M-1,0H3","symbolSize":676,"symbolStrokeWidth":1.3,"labelOffset":30,"rowPadding":6}},
"strokeDash":{"field":"g","type":"nominal","scale":{"domain":["20-30 (N)","30-40 (N)"],"range":[[1,0],[4,3]]},"legend":{"title":"Normal force","orient":"top-left","offset":7,"strokeColor":"#262626","fillColor":"white","padding":6,"titleFontSize":22,"titleFontWeight":"bold","titleColor":"black","titleAnchor":"middle","titlePadding":11,"labelFontSize":22,"labelColor":"#262626","symbolType":"M-1,0H3","symbolSize":676,"symbolStrokeWidth":1.3,"labelOffset":30,"rowPadding":6}}
}},
{"mark":{"type":"line","opacity":0},
"encoding":{
"x":{"field":"x","type":"quantitative","axis":{"orient":"top","values":[0,0.02,0.04,0.06,0.08,0.1,0.12,0.14,0.16,0.18,0.2],"labels":false,"title":null,"grid":false}},
"y":{"field":"y","type":"quantitative","axis":{"orient":"right","values":[0,0.1,0.2,0.3,0.4,0.5,0.6,0.7],"labels":false,"title":null,"grid":false}},
"detail":{"field":"s","type":"nominal"}
}}
],
"resolve":{"axis":{"x":"independent","y":"independent"}}
}
